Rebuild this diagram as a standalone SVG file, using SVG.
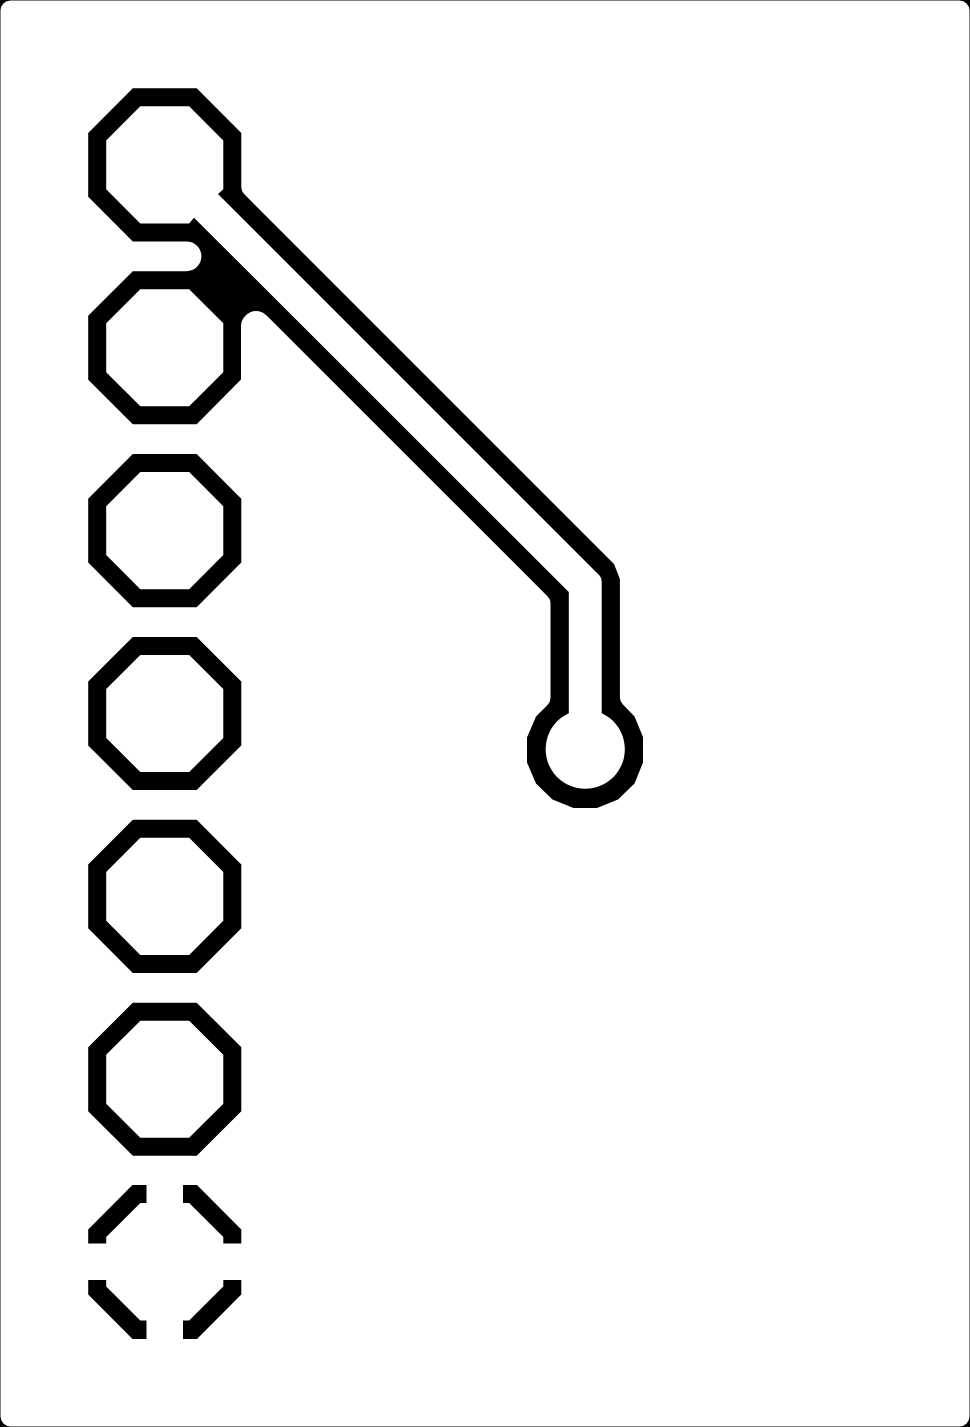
<svg xmlns="http://www.w3.org/2000/svg" width="970" height="1427" viewBox="0 0 970 1427">
<defs>
<style>.k{fill:#000;fill-rule:evenodd}</style>
<path id="oct" class="k" d="M132.800 88.300H196.700L241.300 132.900V196.800L196.700 241.400H132.800L88.200 196.800V132.900ZM140.300 106.300L106.200 140.400V189.300L140.300 223.400H189.200L223.300 189.300V140.400L189.200 106.300Z"/>
</defs>
<rect width="970" height="1427" fill="#000"/>
<rect x="0.500" y="0.500" width="969" height="1426" rx="10" fill="#fff"/>
<g id="connectors">
<path id="trace" class="k" d="M132.800 88.300H196.700L241.300 132.900V187.300A10 10 0 0 0 244.100 194.100L614 564L619.900 579V697.500A10 10 0 0 0 622.700 704.300L634.500 716.500L643 737V762.500L634.500 783.500L618 799.500L597 808H573.500L552.500 799.500L536 783.500L527 762.500V737.500L536 716.500L547.500 705A10 10 0 0 0 550.500 697.500V603.300A10 10 0 0 0 547.700 596.500L266.600 315.400A15 15 0 0 0 241 326V379.600L196.700 424.300H132.800L88.200 379.700V315.800L132.800 271.200H186.500A14.800 14.800 0 0 0 186.500 241.400H132.800L88.200 196.800V132.900ZM140.300 106.300L106.200 140.400V189.300L140.300 223.400H189.200L194 217.700L568.800 592V713.200A39.600 39.600 0 1 0 601.700 713.200V582A10 10 0 0 0 598.500 574.500L218 194L223.300 189.300V140.400L189.200 106.300ZM140.300 289.200L106.200 323.300V372.200L140.300 406.300H189.200L223.300 372.200V323.300L189.200 289.200Z"/>
</g>
<g id="pad-3"><use href="#oct" y="365.760"/></g>
<g id="pad-4"><use href="#oct" y="548.640"/></g>
<g id="pad-5"><use href="#oct" y="731.520"/></g>
<g id="pad-6"><use href="#oct" y="914.400"/></g>
<g id="pad-7">
<path class="k" d="M132.500 1185H146.500V1203H140.300L106.200 1237V1243.500H88.200V1229.500Z"/>
<path class="k" d="M183 1185H197L241.300 1229.500V1243.500H223.300V1237L189.200 1203H183Z"/>
<path class="k" d="M88.200 1280H106.200V1286.500L140.300 1320.500H146.500V1339H132.500L88.200 1294.500Z"/>
<path class="k" d="M223.300 1280H241.300V1294.500L197 1339H183V1320.500H189.200L223.300 1286.500Z"/>
</g>
</svg>
